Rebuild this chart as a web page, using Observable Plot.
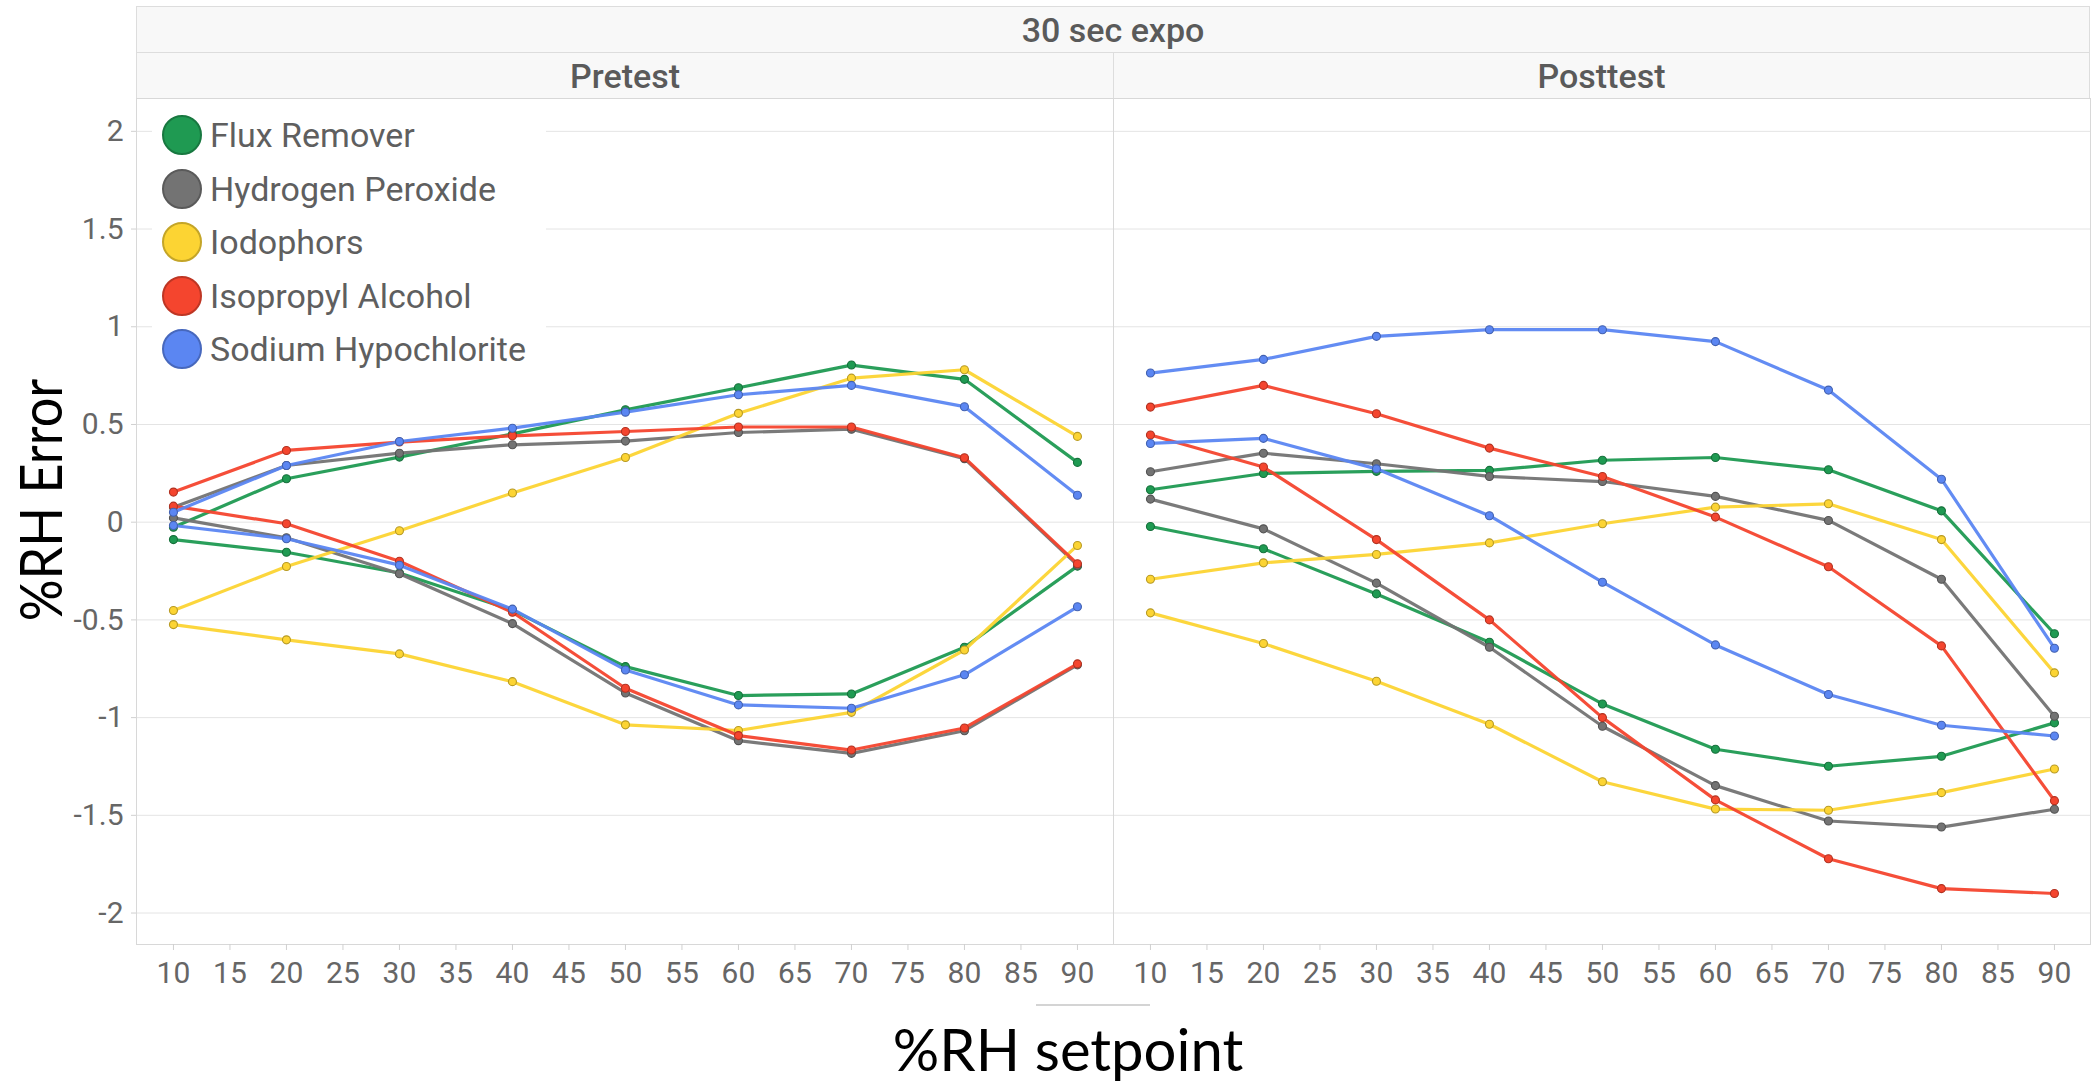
<!DOCTYPE html>
<html>
<head>
<meta charset="utf-8">
<script src="https://cdn.jsdelivr.net/npm/d3@7"></script>
<script src="https://cdn.jsdelivr.net/npm/@observablehq/plot@0.6"></script>
<style>
html, body { margin: 0; padding: 0; background: #fff; }
#wrap { position: relative; width: 2096px; height: 1085px; overflow: hidden; font-family: Roboto, sans-serif; }
.strip { position: absolute; box-sizing: border-box; background: #f8f8f8; border: 1px solid #dddddd;
  color: #5a5a5a; font-size: 34px; font-weight: 500; display: flex; align-items: center; justify-content: center; }
#chart { position: absolute; left: 0; top: 98px; }
#legend { position: absolute; left: 152px; top: 105px; width: 394px; height: 270px; background: #fff; }
.lrow { position: absolute; left: 0; height: 40px; display: flex; align-items: center; }
.lsw { width: 36px; height: 36px; border-radius: 50%; box-sizing: content-box; border: 2px solid; margin-left: 10px; }
.ltx { margin-left: 8px; font-size: 34px; color: #5f5f5f; font-family: Roboto, sans-serif; white-space: nowrap; }
.axlab { position: absolute; font-family: Lato, "Open Sans", sans-serif; font-size: 58px; color: #000; white-space: nowrap; line-height: 1; }
</style>
</head>
<body>
<div id="wrap">
  <div class="strip" style="left:136px;top:6px;width:1954px;height:47px;">30 sec expo</div>
  <div class="strip" id="s0" style="left:136px;top:52px;width:978px;height:47px;"></div>
  <div class="strip" id="s1" style="left:1113px;top:52px;width:977px;height:47px;"></div>
  <div id="chart"></div>
  <div id="legend"></div>
  <div style="position:absolute;left:1036px;top:1004px;width:114px;height:2px;background:#d4d4d4;"></div>
  <div class="axlab" id="xlab" style="left:1068px;top:1020px;transform:translateX(-50%);">%RH setpoint</div>
  <div class="axlab" id="ylab" style="left:40px;top:500px;transform:translate(-50%,-50%) rotate(-90deg) scaleX(0.9);">%RH Error</div>
</div>
<script>
// ---- data ----
const setpoints = [10, 20, 30, 40, 50, 60, 70, 80, 90];
const agents = ["Flux Remover", "Hydrogen Peroxide", "Iodophors", "Isopropyl Alcohol", "Sodium Hypochlorite"];
const colors = ["#1f9a52", "#737373", "#fcd433", "#f4452e", "#5b86f2"];
const phases = ["Pretest", "Posttest"];
const xTicks = [10, 15, 20, 25, 30, 35, 40, 45, 50, 55, 60, 65, 70, 75, 80, 85, 90];
const yTicks = [-2, -1.5, -1, -0.5, 0, 0.5, 1, 1.5, 2];

// Pretest (two curves per agent)
const fluxPre1 = [-0.026, 0.222, 0.333, 0.452, 0.575, 0.688, 0.804, 0.731, 0.306];
const fluxPre2 = [-0.089, -0.154, -0.260, -0.450, -0.739, -0.887, -0.879, -0.640, -0.225];
const hydPre1  = [0.077, 0.290, 0.353, 0.396, 0.415, 0.459, 0.476, 0.325, -0.220];
const hydPre2  = [0.022, -0.080, -0.264, -0.519, -0.874, -1.118, -1.183, -1.067, -0.730];
const iodPre1  = [-0.452, -0.227, -0.044, 0.149, 0.331, 0.557, 0.737, 0.780, 0.439];
const iodPre2  = [-0.524, -0.602, -0.674, -0.816, -1.037, -1.066, -0.973, -0.654, -0.119];
const isoPre1  = [0.154, 0.367, 0.410, 0.442, 0.464, 0.487, 0.487, 0.330, -0.213];
const isoPre2  = [0.082, -0.008, -0.200, -0.461, -0.850, -1.092, -1.166, -1.053, -0.725];
const sodPre1  = [0.051, 0.290, 0.413, 0.481, 0.563, 0.652, 0.700, 0.591, 0.138];
const sodPre2  = [-0.017, -0.085, -0.220, -0.445, -0.756, -0.935, -0.952, -0.781, -0.433];

// Posttest
const fluxPost1 = [0.166, 0.249, 0.260, 0.265, 0.317, 0.331, 0.268, 0.058, -0.571];
const fluxPost2 = [-0.022, -0.136, -0.367, -0.614, -0.930, -1.162, -1.249, -1.198, -1.027];
const hydPost1  = [0.258, 0.353, 0.299, 0.234, 0.208, 0.132, 0.009, -0.292, -0.993];
const hydPost2  = [0.118, -0.034, -0.312, -0.640, -1.044, -1.348, -1.529, -1.560, -1.469];
const iodPost1  = [-0.292, -0.208, -0.165, -0.106, -0.008, 0.077, 0.094, -0.089, -0.771];
const iodPost2  = [-0.464, -0.621, -0.814, -1.034, -1.328, -1.468, -1.474, -1.384, -1.263];
const isoPost1  = [0.589, 0.700, 0.555, 0.379, 0.234, 0.026, -0.228, -0.633, -1.425];
const isoPost2  = [0.446, 0.282, -0.089, -0.500, -1.000, -1.421, -1.722, -1.875, -1.900];
const sodPost1  = [0.763, 0.833, 0.951, 0.985, 0.985, 0.924, 0.676, 0.220, -0.645];
const sodPost2  = [0.403, 0.429, 0.273, 0.033, -0.307, -0.628, -0.882, -1.039, -1.094];

const curves = [
  ["Pretest", 0, fluxPre1], ["Pretest", 0, fluxPre2],
  ["Pretest", 1, hydPre1], ["Pretest", 1, hydPre2],
  ["Pretest", 2, iodPre1], ["Pretest", 2, iodPre2],
  ["Pretest", 3, isoPre1], ["Pretest", 3, isoPre2],
  ["Pretest", 4, sodPre1], ["Pretest", 4, sodPre2],
  ["Posttest", 0, fluxPost1], ["Posttest", 0, fluxPost2],
  ["Posttest", 1, hydPost1], ["Posttest", 1, hydPost2],
  ["Posttest", 2, iodPost1], ["Posttest", 2, iodPost2],
  ["Posttest", 3, isoPost1], ["Posttest", 3, isoPost2],
  ["Posttest", 4, sodPost1], ["Posttest", 4, sodPost2]
];

const rows = [];
curves.forEach(([phase, ai, vals], ci) => {
  vals.forEach((v, i) => rows.push({phase, agent: agents[ai], series: "c" + ci, x: setpoints[i], y: v}));
});

// strips
document.getElementById("s0").textContent = phases[0];
document.getElementById("s1").textContent = phases[1];

// ---- chart ----
const seriesMarks = [];
agents.forEach((a, i) => {
  const d = rows.filter(r => r.agent === a);
  const c = colors[i];
  const dk = d3.color(c).darker(0.9).formatHex();
  seriesMarks.push(Plot.line(d, {x: "x", y: "y", z: "series", fx: "phase", stroke: c, strokeWidth: 3.2, strokeOpacity: 0.95}));
  seriesMarks.push(Plot.dot(d, {x: "x", y: "y", fx: "phase", r: 4, fill: c, stroke: dk, strokeWidth: 1.1}));
});

const chart = Plot.plot({
  width: 2096,
  height: 987,
  marginLeft: 136,
  marginRight: 6,
  marginTop: 0,
  marginBottom: 141,
  style: {fontFamily: "Roboto, sans-serif", background: "transparent", color: "#666"},
  fx: {domain: phases, padding: 0, axis: null, label: null},
  x: {domain: [6.73, 93.19], label: null},
  y: {domain: [-2.161, 2.168], label: null},
  marks: [
    Plot.gridY(yTicks, {stroke: "#e4e4e4", strokeOpacity: 1, strokeWidth: 1}),
    Plot.frame({stroke: "#d8d8d8"}),
    Plot.axisY(yTicks, {anchor: "left", tickSize: 5, tickPadding: 8, fontSize: 30, tickFormat: d => String(d),
      stroke: "#d0d0d0", fill: "#666", label: null}),
    Plot.axisX(xTicks, {anchor: "bottom", tickSize: 6, tickPadding: 11, fontSize: 30, tickFormat: d => String(d),
      stroke: "#d0d0d0", fill: "#666", label: null}),
    ...seriesMarks
  ]
});
document.getElementById("chart").appendChild(chart);

// ---- legend ----
const leg = document.getElementById("legend");
agents.forEach((a, i) => {
  const row = document.createElement("div");
  row.className = "lrow";
  row.style.top = (10 + i * 53.5) + "px";
  const sw = document.createElement("div");
  sw.className = "lsw";
  sw.style.background = colors[i];
  sw.style.borderColor = d3.color(colors[i]).darker(0.7).formatHex();
  const tx = document.createElement("div");
  tx.className = "ltx";
  tx.textContent = a;
  row.appendChild(sw); row.appendChild(tx);
  leg.appendChild(row);
});
</script>
</body>
</html>
